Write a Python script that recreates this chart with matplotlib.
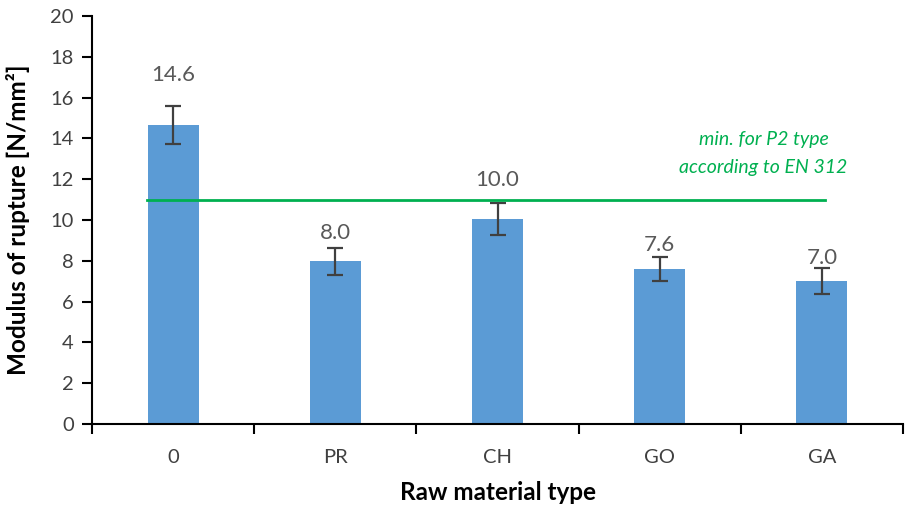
import numpy as np
import matplotlib.pyplot as plt

# données
categories = ['0', 'PR', 'CH', 'GO', 'GA']
values = [14.65, 7.97, 10.05, 7.6, 7.0]
errors = [0.93, 0.68, 0.8, 0.6, 0.63]
labels = ['14.6', '8.0', '10.0', '7.6', '7.0']
label_y = [17.1, 9.35, 11.95, 8.77, 8.13]
en312_min = 11.0

plt.rcParams['font.family'] = ['Lato', 'DejaVu Sans']

fig = plt.figure(figsize=(9.05, 5.08), dpi=100)
ax = fig.add_axes([92 / 905, 84 / 508, 811 / 905, 408 / 508])

x = np.arange(len(categories))
ax.bar(x, values, width=0.315, color='#5B9BD5', zorder=2)
ax.errorbar(x, values, yerr=errors, fmt='none', ecolor='#404040',
            elinewidth=1.6, capsize=6, capthick=1.6, zorder=3)

for xi, yi, txt in zip(x, label_y, labels):
    ax.text(xi, yi, txt, ha='center', va='center', fontsize=16, color='#595959')

# seuil EN 312
ax.plot([-0.16, 4.02], [en312_min, en312_min], color='#00B050', lw=2, zorder=4)
ax.text(3.64, 13.25, 'min. for P2 type\naccording to EN 312', ha='center', va='center',
        fontsize=14, color='#00B050', style='italic', linespacing=1.8)

ax.set_xlim(-0.5, 4.5)
ax.set_ylim(0, 20)
ax.set_yticks(np.arange(0, 21, 2))
ax.set_xticks(x)
ax.set_xticklabels(categories)
ax.set_xticks(np.arange(-0.5, 5, 1), minor=True)
ax.tick_params(axis='x', which='major', length=0, pad=18, labelsize=14.5, labelcolor='#404040')
ax.tick_params(axis='x', which='minor', length=7, width=1.5, direction='out')
ax.tick_params(axis='y', length=7, width=1.5, direction='out', labelsize=14.5,
               labelcolor='#404040', pad=6)

for side in ['top', 'right']:
    ax.spines[side].set_visible(False)
for side in ['left', 'bottom']:
    ax.spines[side].set_linewidth(1.5)

ax.set_ylabel('Modulus of rupture [N/mm²]', fontsize=17.5, fontweight='bold')
ax.set_xlabel('Raw material type', fontsize=17.5, fontweight='bold')
ax.yaxis.set_label_coords(-0.091, 0.5)
ax.xaxis.set_label_coords(0.5, -0.169)
ax.xaxis.label.set_va('center')
ax.yaxis.label.set_va('center')

fig.savefig('out.png', dpi=100)
